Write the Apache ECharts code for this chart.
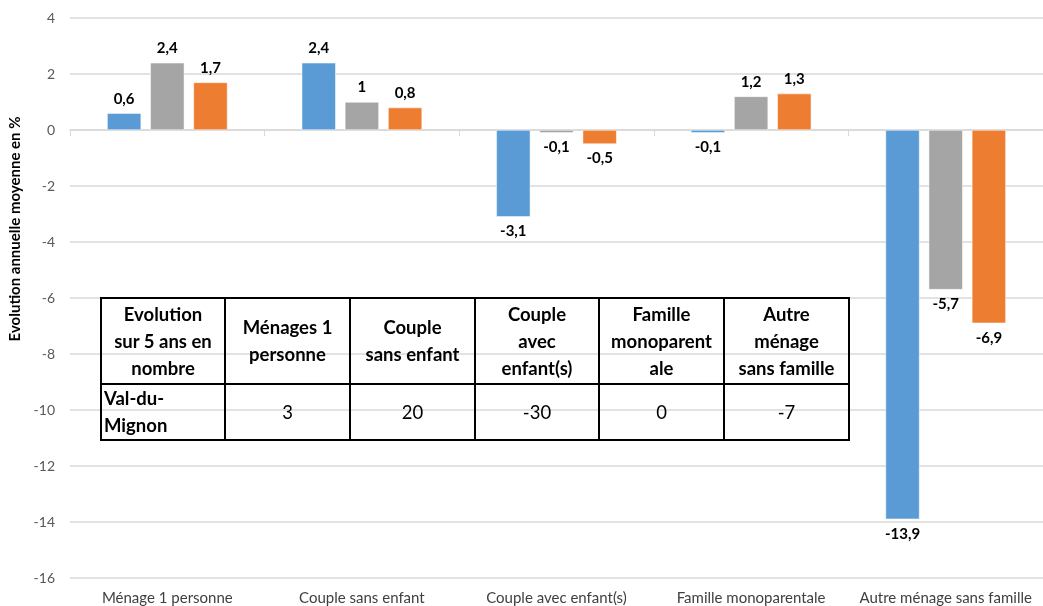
<!DOCTYPE html>
<html>
<head>
<meta charset="utf-8">
<script src="https://cdn.jsdelivr.net/npm/echarts@6/dist/echarts.min.js"></script>
<style>
  html, body { margin: 0; padding: 0; background: #fff; }
  #wrap { position: relative; width: 1043px; height: 606px; }
  #chart { position: absolute; left: 0; top: 0; width: 1043px; height: 606px; }
  #tbl {
    position: absolute; left: 100px; top: 297px;
    border-collapse: collapse; font-family: Lato, 'Noto Sans', sans-serif;
    font-size: 18.5px; color: #000; background: transparent; table-layout: fixed;
  }
  #tbl td { border: 2px solid #000; padding: 0 2px; text-align: center; line-height: 27px; white-space: nowrap; overflow: hidden; }
  #tbl tr.head td { height: 84px; font-weight: bold; }
  #tbl tr.vals td { height: 54px; }
  #tbl td.rowlabel { text-align: left; font-weight: bold; }
</style>
</head>
<body>
<div id="wrap">
  <div id="chart"></div>
  <table id="tbl"></table>
</div>
<script>
// catégories de ménages
const categories = ['Ménage 1 personne', 'Couple sans enfant', 'Couple avec enfant(s)', 'Famille monoparentale', 'Autre ménage sans famille']
// évolution annuelle moyenne en %
const serieBleue = [0.6, 2.4, -3.1, -0.1, -13.9]
const serieGrise = [2.4, 1, -0.1, 1.2, -5.7]
const serieOrange = [1.7, 0.8, -0.5, 1.3, -6.9]
const yTicks = { min: -16, max: 4, interval: 2 }

// tableau incrusté (lignes de texte telles qu'affichées)
const tableHeader = [
  ['Evolution', 'sur 5 ans en', 'nombre'],
  ['Ménages 1', 'personne'],
  ['Couple', 'sans enfant'],
  ['Couple', 'avec', 'enfant(s)'],
  ['Famille', 'monoparent', 'ale'],
  ['Autre', 'ménage', 'sans famille'],
]
const tableRowLabel = ['Val-du-', 'Mignon']
const tableValues = [3, 20, -30, 0, -7]

const tbl = document.getElementById('tbl')
const colW = [124, 125, 125, 124, 125, 125]
let html = '<tr class="head">'
tableHeader.forEach((h, i) => { html += `<td style="width:${colW[i] - 6}px">${h.join('<br>')}</td>` })
html += '</tr><tr class="vals"><td class="rowlabel">' + tableRowLabel.join('<br>') + '</td>'
tableValues.forEach((v) => { html += `<td>${v}</td>` })
html += '</tr>'
tbl.innerHTML = html

const fmt = (v) => String(v).replace('.', ',')

const makeData = (arr) => arr.map((v) => ({
  value: v,
  label: { position: v < 0 ? 'bottom' : 'top' },
}))

const mkSeries = (name, arr, color) => ({
  name,
  type: 'bar',
  data: makeData(arr),
  barWidth: 34,
  barGap: '27%',
  itemStyle: { color, borderColor: '#fff', borderWidth: 0.5 },
  label: {
    show: true,
    distance: 7,
    fontFamily: 'Lato, sans-serif',
    fontWeight: 'bold',
    fontSize: 15,
    color: '#000',
    formatter: (p) => fmt(p.value),
  },
})

const chart = echarts.init(document.getElementById('chart'))
chart.setOption({
  animation: false,
  textStyle: { fontFamily: 'Lato, sans-serif' },
  grid: { left: 70, right: 0, top: 18, bottom: 28, outerBoundsMode: 'none', containLabel: false },
  xAxis: [
    {
      type: 'category',
      data: categories,
      position: 'bottom',
      axisLine: { show: false, onZero: false },
      axisTick: { show: false },
      axisLabel: { color: '#404040', fontSize: 15, margin: 13, interval: 0 },
    },
    {
      type: 'category',
      data: categories,
      position: 'bottom',
      axisLine: { show: true, onZero: true, lineStyle: { color: '#d9d9d9', width: 1.5 } },
      axisTick: { show: true, length: 6, lineStyle: { color: '#d9d9d9' } },
      axisLabel: { show: false },
    },
  ],
  yAxis: {
    type: 'value',
    min: yTicks.min,
    max: yTicks.max,
    interval: yTicks.interval,
    name: 'Evolution annuelle moyenne en %',
    nameLocation: 'middle',
    nameGap: 46,
    nameTextStyle: { fontWeight: 'bold', fontSize: 15, color: '#000', padding: [0, 0, 0, 138] },
    axisLine: { show: false },
    axisTick: { show: false },
    axisLabel: { color: '#595959', fontSize: 14, margin: 15 },
    splitLine: { lineStyle: { color: '#d9d9d9', width: 1.5 } },
  },
  series: [
    mkSeries('Série 1', serieBleue, '#5B9BD5'),
    mkSeries('Série 2', serieGrise, '#A5A5A5'),
    mkSeries('Série 3', serieOrange, '#ED7D31'),
  ],
})
</script>
</body>
</html>
